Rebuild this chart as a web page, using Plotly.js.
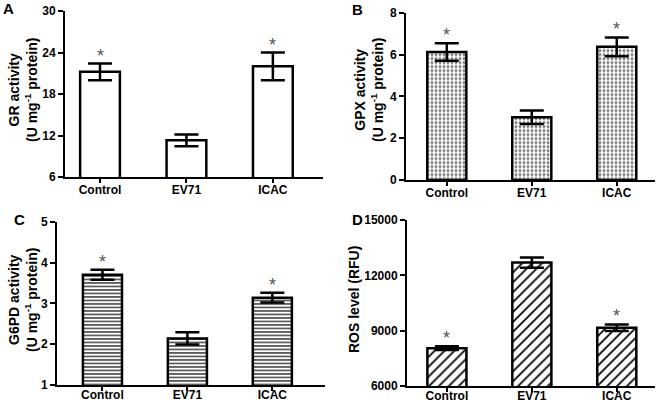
<!DOCTYPE html>
<html>
<head>
<meta charset="utf-8">
<script src="https://cdn.plot.ly/plotly-3.0.1.min.js"></script>
<style>html,body{margin:0;padding:0;background:#fff}#chart{width:660px;height:404px}</style>
</head>
<body>
<div id="chart"></div>
<script>
// ---- data ----
const categories = ["Control", "EV71", "ICAC"];
const grValues = [21.2, 11.3, 22.0];
const grErrors = [1.2, 0.85, 2.0];
const gpxValues = [6.12, 3.0, 6.37];
const gpxErrors = [0.42, 0.32, 0.45];
const g6pdValues = [3.70, 2.14, 3.14];
const g6pdErrors = [0.12, 0.15, 0.12];
const rosValues = [8050, 12690, 9160];
const rosErrors = [100, 280, 180];
const grSignificant = [true, false, true];
const gpxSignificant = [true, false, true];
const g6pdSignificant = [true, false, true];
const rosSignificant = [true, false, true];

const panelLetters = ["A", "B", "C", "D"];
const yTitles = [
  "GR activity<br>(U mg<sup>-1</sup> protein)",
  "GPX activity<br>(U mg<sup>-1</sup> protein)",
  "G6PD activity<br>(U mg<sup>-1</sup> protein)",
  "ROS level (RFU)"
];

const W = 660, H = 404;
const FONT = "Liberation Sans, Arial, sans-serif";
const xs = categories.map((c, i) => i);

function barTrace(vals, errs, pattern, ax) {
  return {
    type: "bar", x: xs, y: vals, xaxis: "x" + ax, yaxis: "y" + ax,
    width: 0.46,
    marker: { color: "#fff", line: { color: "#000", width: 2.5 }, pattern: pattern },
    error_y: { type: "data", array: errs, visible: true, color: "#000", thickness: 2.5, width: 12 },
    hoverinfo: "none", showlegend: false
  };
}

const traces = [
  barTrace(grValues, grErrors, { shape: "" }, ""),
  barTrace(gpxValues, gpxErrors, { shape: ".", size: 4, solidity: 0.4, fgcolor: "#777", bgcolor: "#fff" }, "2"),
  barTrace(g6pdValues, g6pdErrors, { shape: "-", size: 3.5, solidity: 0.4, fgcolor: "#333", bgcolor: "#fff" }, "3"),
  barTrace(rosValues, rosErrors, { shape: "/", size: 7, solidity: 0.25, fgcolor: "#000", bgcolor: "#fff" }, "4")
];

function xAxis(domain, range, anchor, standoff) {
  return {
    domain: domain, range: range, anchor: anchor,
    tickmode: "array", tickvals: xs, ticktext: categories,
    ticks: "outside", ticklen: 4, tickwidth: 2, tickcolor: "#000",
    ticklabelstandoff: standoff,
    showline: true, linecolor: "#000", linewidth: 2,
    showgrid: false, zeroline: false, fixedrange: true,
    tickfont: { family: FONT, size: 12, color: "#000", weight: "bold" }
  };
}
function yAxis(domain, range, dtick, anchor) {
  return {
    domain: domain, range: range, anchor: anchor, dtick: dtick, tick0: range[0],
    ticks: "outside", ticklen: 5, tickwidth: 2, tickcolor: "#000",
    tickformat: "d",
    showline: true, linecolor: "#000", linewidth: 2,
    showgrid: false, zeroline: false, fixedrange: true,
    tickfont: { family: FONT, size: 12, color: "#000", weight: "bold" }
  };
}

const yA = [6, 30], yB = [0, 8], yC = [1, 5], yD = [6000, 15000];
const layout = {
  width: W, height: H, margin: { l: 0, r: 0, t: 0, b: 0 },
  paper_bgcolor: "#fff", plot_bgcolor: "rgba(0,0,0,0)",
  bargap: 0,
  xaxis: xAxis([65 / W, 323 / W], [-0.405, 2.58], "y", -3),
  yaxis: yAxis([1 - 177 / H, 1 - 11 / H], yA, 6, "x"),
  xaxis2: xAxis([406 / W, 655 / W], [-0.48, 2.45], "y2", -3),
  yaxis2: yAxis([1 - 180 / H, 1 - 12.7 / H], yB, 2, "x2"),
  xaxis3: xAxis([57 / W, 325 / W], [-0.535, 2.62], "y3", -6),
  yaxis3: yAxis([1 - 385 / H, 1 - 221.7 / H], yC, 1, "x3"),
  xaxis4: xAxis([407 / W, 655 / W], [-0.47, 2.45], "y4", -6),
  yaxis4: yAxis([1 - 386 / H, 1 - 220 / H], yD, 3000, "x4"),
  annotations: [],
  font: { family: FONT }
};

// significance asterisks
const sets = [
  [grValues, grErrors, grSignificant, "x", "y"],
  [gpxValues, gpxErrors, gpxSignificant, "x2", "y2"],
  [g6pdValues, g6pdErrors, g6pdSignificant, "x3", "y3"],
  [rosValues, rosErrors, rosSignificant, "x4", "y4"]
];
sets.forEach(([v, e, s, xr, yr]) => {
  v.forEach((val, i) => {
    if (s[i]) layout.annotations.push({
      x: xs[i], y: val + e[i], xref: xr, yref: yr, text: "*", showarrow: false,
      yanchor: "bottom", yshift: -4,
      font: { family: FONT, size: 18, color: "#555" }
    });
  });
});
// y-axis titles (rotated), centred at these pixel positions
const titlePos = [[23, 90], [369, 90], [23, 300], [354, 300]];
yTitles.forEach((t, i) => {
  layout.annotations.push({
    x: titlePos[i][0] / W, y: 1 - titlePos[i][1] / H, xref: "paper", yref: "paper",
    text: t, showarrow: false, textangle: -90, xanchor: "center", yanchor: "middle",
    font: { family: FONT, size: 14, color: "#000", weight: "bold" }
  });
});
// panel letters
const letterPos = [[8, 8], [357, 9], [19, 219], [357, 219]];
panelLetters.forEach((L, i) => {
  layout.annotations.push({
    x: letterPos[i][0] / W, y: 1 - letterPos[i][1] / H, xref: "paper", yref: "paper",
    text: L, showarrow: false, xanchor: "center", yanchor: "middle",
    font: { family: FONT, size: 15, color: "#000", weight: "bold" }
  });
});

Plotly.newPlot("chart", traces, layout, { staticPlot: true, displayModeBar: false });
</script>
</body>
</html>
